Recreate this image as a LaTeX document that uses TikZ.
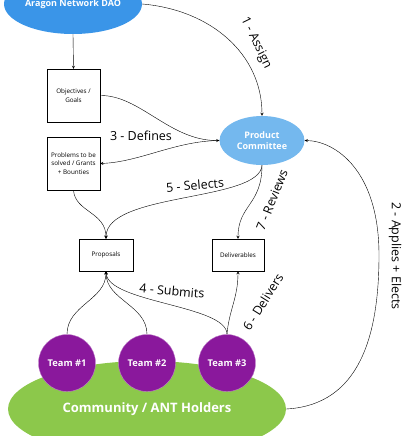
\documentclass[tikz,border=0pt]{standalone}
\usepackage{fontspec}
\setmainfont{Open Sans}
\usetikzlibrary{arrows,shapes.geometric}
\definecolor{daoblue}{HTML}{3A95E8}
\definecolor{pcblue}{HTML}{74B8EE}
\definecolor{teampurple}{HTML}{8A189C}
\definecolor{antgreen}{HTML}{8CC84B}
\tikzstyle{arrow} = [thin,->,>=stealth]
\tikzstyle{box} = [draw,thin,fill=white,align=center,inner sep=1pt,font=\fontsize{6.3}{8.3}\selectfont]
\tikzstyle{blob} = [ellipse,inner sep=0pt,text=white,align=center,font=\bfseries\fontsize{9}{11}\selectfont]
\tikzstyle{team} = [circle,fill=teampurple,draw=teampurple!55!white,thin,minimum size=57pt,inner sep=0pt,text=white,font=\bfseries\fontsize{9.3}{11}\selectfont]
\tikzstyle{steplabel} = [font=\fontsize{12.5}{14}\selectfont,inner sep=1pt]

\begin{document}
\begin{tikzpicture}[x=1pt,y=-1pt]
	\useasboundingbox (0,0) rectangle (415,436);
	\clip (0,0) rectangle (415,436);
	\def \bw {53pt}
	% top of the graph
	\node[blob,fill=daoblue,minimum width=138pt,minimum height=60pt] (dao) at (73,4) {\raisebox{2pt}{Aragon Network DAO}};
	\node[box,minimum width=\bw,minimum height=\bw] (goals) at (73.5,95.5) {Objectives /\\Goals};
	\node[box,minimum width=\bw,minimum height=\bw] (problems) at (73.5,163.5) {Problems to be\\solved / Grants\\+ Bounties};
	\node[blob,fill=pcblue,minimum width=85pt,minimum height=49pt] (pc) at (262,140.5) {Product\\Committee};
	\node[box,minimum width=54pt,minimum height=32pt] (proposals) at (106,255) {Proposals};
	\node[box,minimum width=52pt,minimum height=32pt] (deliverables) at (238,255) {Deliverables};
	% community and teams
	\node[ellipse,fill=antgreen,minimum width=278pt,minimum height=96pt,inner sep=0pt] (ant) at (147,409) {};
	\node[text=white,font=\bfseries\fontsize{13}{15}\selectfont] (antlabel) at (147,409) {Community / ANT Holders};
	\foreach \i/\x in {1/67,2/147,3/227} {
		\node[team] (team\i) at (\x,363) {Team \#\i};
	}
	\coordinate (loop) at (379,255);

	\draw [arrow] (dao.south) -- (goals.north);
	\draw [arrow] (dao.east) .. controls (212,10) and (262,55) .. (pc.north);
	\draw [arrow] (goals.east) .. controls (140,95) and (170,141) .. (pc.west);
	\draw [arrow] (pc.west) .. controls (175,141) and (140,162) .. (problems.east);
	\draw [arrow] (problems.south) .. controls (75,212) and (106,212) .. (proposals.north);
	\draw [arrow] (pc.south) .. controls (260,202) and (106,192) .. (proposals.north);
	\draw [arrow] (pc.south) .. controls (262,205) and (238,205) .. (deliverables.north);
	\draw [arrow] (team1.north) .. controls (67,305) and (106,300) .. (proposals.south);
	\draw [arrow] (team2.north) .. controls (147,305) and (106,300) .. (proposals.south);
	\draw [arrow] (team3.north) .. controls (227,305) and (108,303) .. (proposals.south);
	\draw [arrow] (team3.north) .. controls (229,310) and (238,298) .. (deliverables.south);
	\draw [arrow] (ant.east) .. controls (360,405) and (379,335) .. (loop) .. controls (379,170) and (335,141) .. (pc.east);

	% step labels
	\node[steplabel,rotate=-64] (assign) at (256,43) {1 - Assign};
	\node[steplabel,rotate=-90] (applies) at (395,256) {2 - Applies + Elects};
	\node[steplabel] (defines) at (141,136) {3 - Defines};
	\node[steplabel,rotate=-5] (submits) at (172,291) {4 - Submits};
	\node[steplabel,rotate=5] (selects) at (195,185) {5 - Selects};
	\node[steplabel,rotate=58] (delivers) at (263,302) {6 - Delivers};
	\node[steplabel,rotate=68] (reviews) at (272,200) {7 - Reviews};
\end{tikzpicture}
\end{document}
